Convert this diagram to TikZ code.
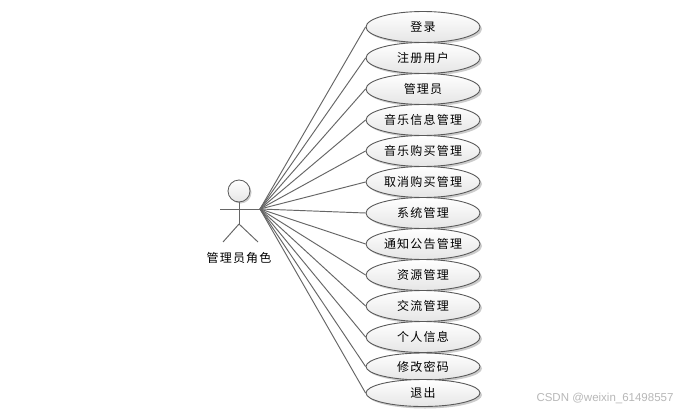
\documentclass[tikz,border=0pt]{standalone}
\usepackage{fontspec}
\setmainfont{Liberation Sans}
\newfontfamily\cjk[LetterSpace=10]{Noto Sans CJK SC}
\usetikzlibrary{shapes.geometric,shadows}
\tikzset{
 usecase/.style={ellipse,draw=black!65,line width=0.9pt,top color=white,bottom color=black!10,
   minimum width=114pt,inner sep=0pt,font=\cjk\fontsize{12}{12}\selectfont,text=black,
   drop shadow={shadow xshift=2pt,shadow yshift=-2pt,fill=black,opacity=0.2}},
 link/.style={draw=black!60,line width=0.95pt},
 actorline/.style={draw=black!60,line width=0.95pt},
 label/.style={yshift=-0.5pt},
}
\begin{document}
\begin{tikzpicture}[x=1pt,y=-1pt]
\useasboundingbox (0,0) rectangle (692,412);
\fill[white] (0,0) rectangle (692,412);
\coordinate (hub) at (260,209);
\coordinate (lhand) at (220,209);
\coordinate (hip) at (239,224);
\coordinate (lfoot) at (223,242);
\coordinate (rfoot) at (258,242);
\node[circle,draw=black!65,line width=0.8pt,top color=white,bottom color=black!10,minimum size=22pt,inner sep=0pt,
  drop shadow={shadow xshift=1.5pt,shadow yshift=-1.5pt,fill=black,opacity=0.2}] (head) at (239,191) {};
\node[font=\cjk\fontsize{12}{12}\selectfont] (actor) at (239,257.5) {管理员角色};
\draw[actorline] (head.south) -- (hip);
\draw[actorline] (lhand) -- (hub);
\draw[actorline] (hip) -- (lfoot);
\draw[actorline] (hip) -- (rfoot);
\node[usecase,minimum height=31pt] (u1) at (423,27) {\raisebox{-0.6pt}{登录}};
\node[usecase,minimum height=31pt] (u2) at (423,58) {\raisebox{-0.6pt}{注册用户}};
\node[usecase,minimum height=31pt] (u3) at (423,89) {\raisebox{-0.6pt}{管理员}};
\node[usecase,minimum height=31pt] (u4) at (423,120) {\raisebox{-0.6pt}{音乐信息管理}};
\node[usecase,minimum height=31pt] (u5) at (423,151) {\raisebox{-0.6pt}{音乐购买管理}};
\node[usecase,minimum height=31pt] (u6) at (423,182) {\raisebox{-0.6pt}{取消购买管理}};
\node[usecase,minimum height=31pt] (u7) at (423,213) {\raisebox{-0.6pt}{系统管理}};
\node[usecase,minimum height=31pt] (u8) at (423,244) {\raisebox{-0.6pt}{通知公告管理}};
\node[usecase,minimum height=31pt] (u9) at (423,275) {\raisebox{-0.6pt}{资源管理}};
\node[usecase,minimum height=31pt] (u10) at (423,306) {\raisebox{-0.6pt}{交流管理}};
\node[usecase,minimum height=31pt] (u11) at (423,337) {\raisebox{-0.6pt}{个人信息}};
\node[usecase,minimum height=27pt] (u12) at (423,366.5) {\raisebox{-0.6pt}{修改密码}};
\node[usecase,minimum height=27pt] (u13) at (423,393) {\raisebox{-0.6pt}{退出}};
\foreach \i in {1,...,13}{\draw[link] (hub) -- (u\i.west);}
\node[text=black!28,font=\fontsize{11.5}{12}\selectfont,inner sep=0pt] (wm) at (605,398) {CSDN @weixin\_61498557};
\end{tikzpicture}
\end{document}
